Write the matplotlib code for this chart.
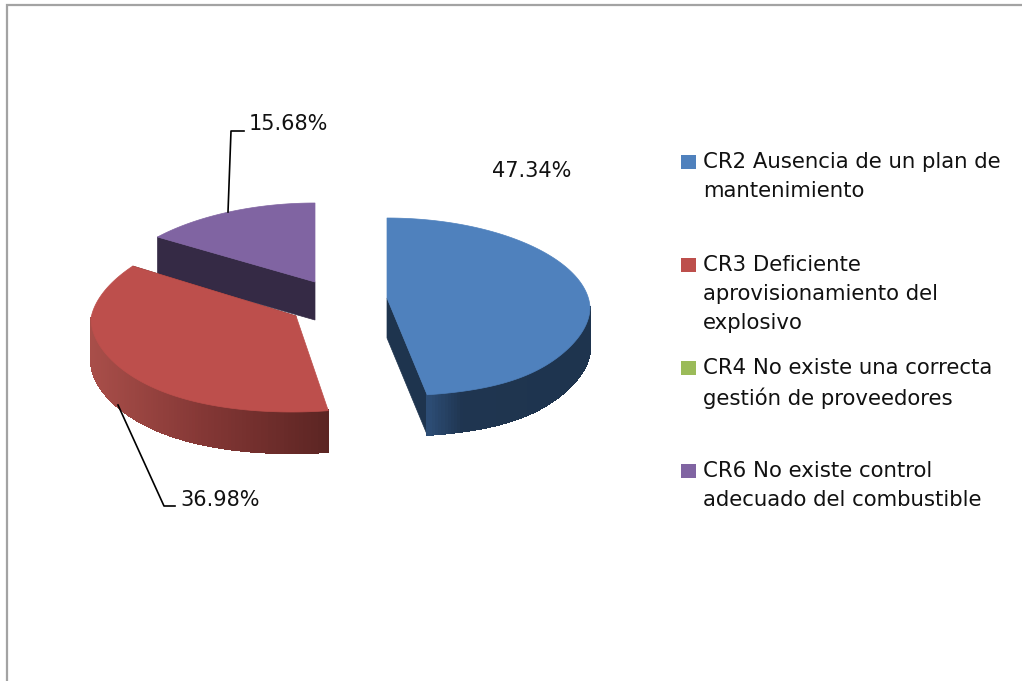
import numpy as np
import matplotlib
matplotlib.use("Agg")
import matplotlib.pyplot as plt
from matplotlib.collections import PolyCollection
from matplotlib.colors import LinearSegmentedColormap
from matplotlib.patches import Polygon, Rectangle

plt.rcParams["font.family"] = "DejaVu Sans"

# -------------------------------
# DATA
# -------------------------------
categories = [
    "CR2 Ausencia de un plan de\nmantenimiento",
    "CR3 Deficiente\naprovisionamiento del\nexplosivo",
    "CR4 No existe una correcta\ngestión de proveedores",
    "CR6 No existe control\nadecuado del combustible",
]
values = [47.34, 36.98, 0.0, 15.68]
colors = ["#4f81bd", "#bd4f4c", "#9bbb59", "#8064a2"]

# -------------------------------
# SLICE GEOMETRY (pixels, fake 3D)
# -------------------------------
geom = {
    0: dict(cx=387, cy=307, rx=203, ry=89, apex=(387, 298), k_up=0.03, k_dn=0.2, depth=40,
            wall=[(0, "#2c4c74"), (0.2, "#1f3550"), (1, "#1e344e")], side="#1e344e"),
    1: dict(cx=292, cy=318, rx=201, ry=94, apex=(296, 316), k_up=0.09, k_dn=0.09, depth=41,
            wall=[(0, "#a84e49"), (0.5, "#823634"), (1, "#5c2523")], side="#5c2523"),
    3: dict(cx=315, cy=279, rx=200, ry=76, apex=(315, 282), k_up=0.10, k_dn=0.0, depth=38,
            wall=[(0, "#352a45"), (1, "#352a45")], side="#352a45"),
}
# label text, leader line
labels = {
    0: dict(pos=(532, 171), line=None),
    1: dict(pos=(220, 500), line=[(118, 405), (164, 506), (175, 506)]),
    3: dict(pos=(288, 124), line=[(228, 212), (231, 131), (244, 131)]),
}
legend_y = [155, 258, 361, 464]

fig = plt.figure(figsize=(10.22, 6.81), dpi=100)
ax = fig.add_axes([0, 0, 1, 1])
ax.set_xlim(0, 1022)
ax.set_ylim(681, 0)
ax.axis("off")

# page border
ax.plot([7, 7, 1022], [681, 5, 5], color="#a3a3a3", lw=1.6, solid_joinstyle="miter")


def arc(g, t):
    c = np.cos(t)
    f = 1 - g["k_up"] * np.clip(c, 0, None) + g["k_dn"] * np.clip(-c, 0, None) ** 4
    x = g["cx"] + g["rx"] * np.sin(t) * f
    y = g["cy"] - g["ry"] * c
    return np.column_stack([x, y])


# angles clockwise from 12 o'clock
edges = np.deg2rad(np.cumsum([0] + values) * 3.6)

# -------------------------------
# SLICES (back to front)
# -------------------------------
for i in [3, 1, 0]:
    g = geom[i]
    t0, t1 = edges[i], edges[i + 1]
    top = arc(g, np.linspace(t0, t1, 160))
    down = np.array([0, g["depth"]])
    apex = np.array(g["apex"], dtype=float)

    # straight cut walls
    p = top[0] if i == 3 else top[-1]
    ax.add_patch(Polygon([p, apex, apex + down, p + down], fc=g["side"], ec=g["side"], lw=0.5))

    # curved outer wall, only the part facing the viewer
    a = max(t0, np.pi / 2)
    b = min(t1, 3 * np.pi / 2)
    if b > a:
        tw = np.linspace(a, b, 100)
        pts = arc(g, tw)
        cmap = LinearSegmentedColormap.from_list("w", g["wall"])
        mid = (pts[:-1, 0] + pts[1:, 0]) / 2
        face = cmap((mid - mid.min()) / (mid.max() - mid.min()))
        quads = [[pts[j], pts[j + 1], pts[j + 1] + down, pts[j] + down] for j in range(len(tw) - 1)]
        ax.add_collection(PolyCollection(quads, facecolors=face, edgecolors=face, linewidths=1.0,
                                         antialiaseds=False))

    # top face
    ax.add_patch(Polygon(np.vstack([apex, top]), closed=True, fc=colors[i], ec=colors[i], lw=0.5))

# -------------------------------
# DATA LABELS
# -------------------------------
for i, lab in labels.items():
    ax.text(lab["pos"][0], lab["pos"][1], f"{values[i]:.2f}%", fontsize=15, ha="center",
            va="center", color="#111111")
    if lab["line"]:
        xs, ys = zip(*lab["line"])
        ax.plot(xs, ys, color="black", lw=1.2)

# -------------------------------
# LEGEND
# -------------------------------
for name, col, y in zip(categories, colors, legend_y):
    ax.add_patch(Rectangle((681, y), 15, 14, fc=col, ec="none"))
    ax.text(703, y - 3, name, fontsize=15.3, va="top", ha="left", color="#111111", linespacing=1.55)

fig.savefig("out.png", dpi=100)
